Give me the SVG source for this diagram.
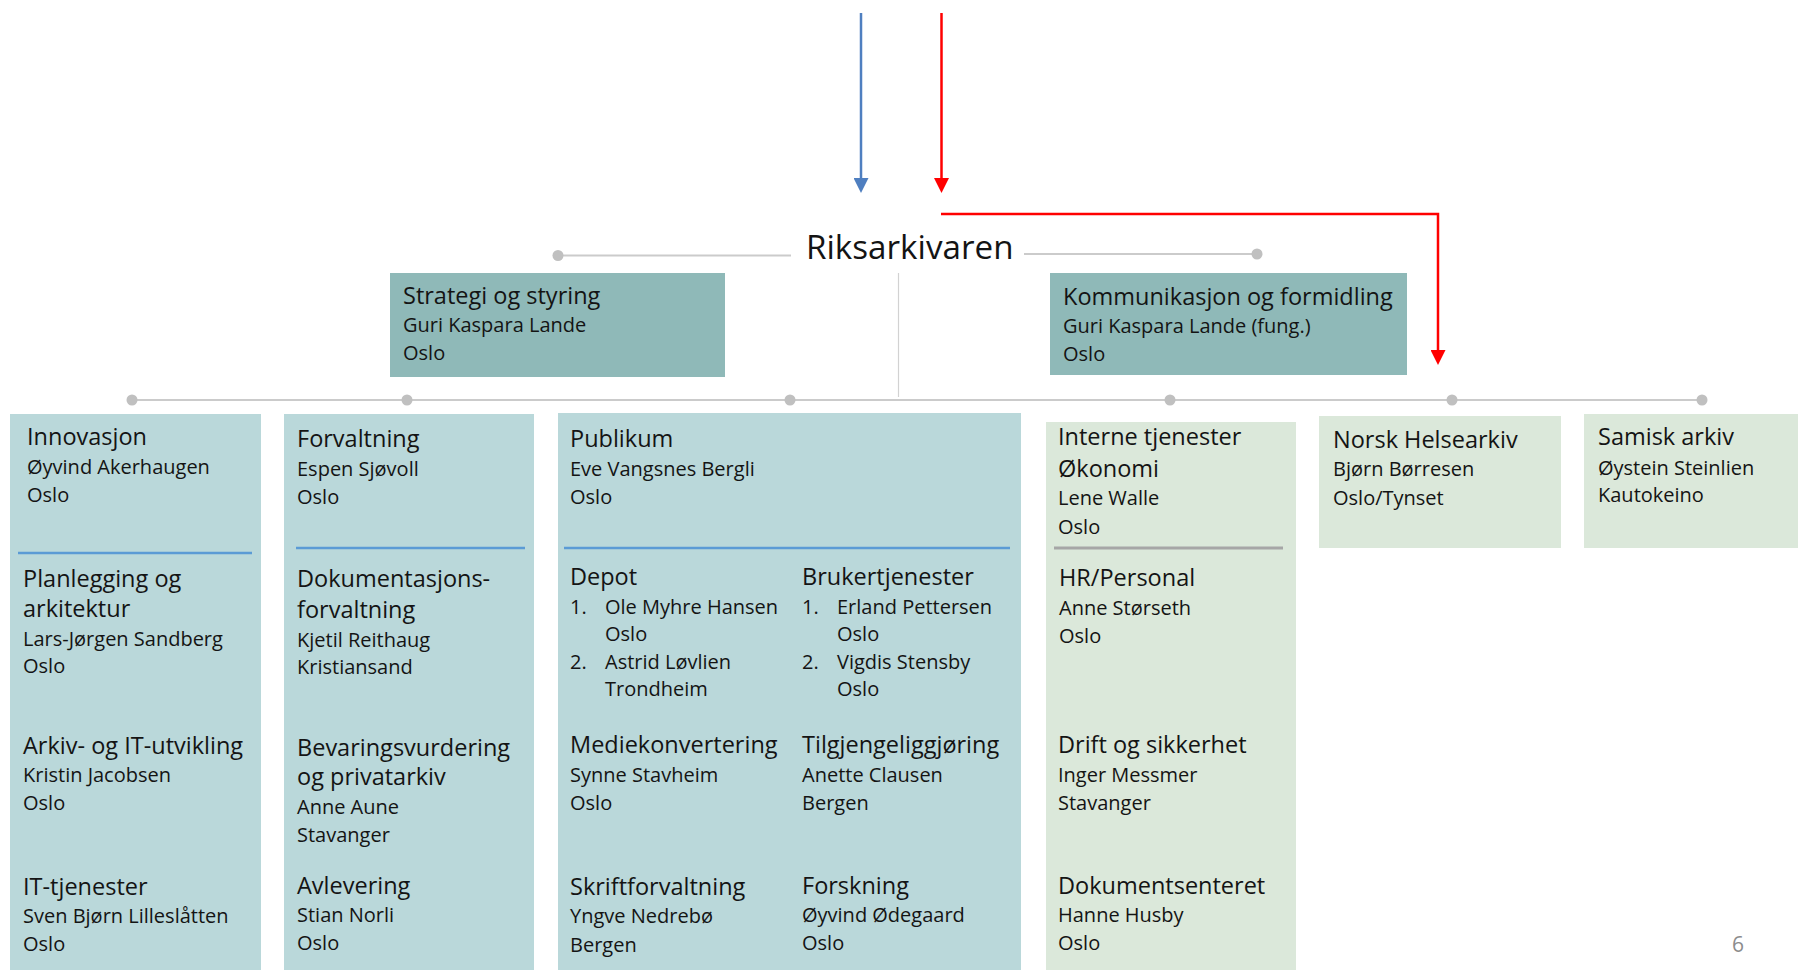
<svg xmlns="http://www.w3.org/2000/svg" width="1798" height="970" viewBox="0 0 1798 970">
<defs>
<style>
text{font-family:"Open Sans","Liberation Sans",sans-serif;fill:#141414}
.t{font-size:33.2px}
.h{font-size:23.5px}
.b{font-size:20px}
.pg{font-size:21px;fill:#8c8c8c}
.dark{fill:#8fb9b8}
.blue{fill:#bad8da}
.green{fill:#dbe8da}
.gl{stroke:#cbcbcb;stroke-width:2;fill:none}
.dot{fill:#c0c0c0}
</style>
<marker id="ab" viewBox="0 0 15 15" refX="7" refY="7.5" markerWidth="15" markerHeight="15" markerUnits="userSpaceOnUse" orient="auto"><path d="M0,0 L15,7.5 L0,15 z" fill="#4f7fc0"/></marker>
<marker id="ar" viewBox="0 0 15 15" refX="7" refY="7.5" markerWidth="15" markerHeight="15" markerUnits="userSpaceOnUse" orient="auto"><path d="M0,0 L15,7.5 L0,15 z" fill="#ff0000"/></marker>
</defs>
<rect width="1798" height="970" fill="#ffffff"/>

<g id="connectors">
<line x1="861" y1="13" x2="861" y2="185" stroke="#4f7fc0" stroke-width="2.5" marker-end="url(#ab)"/>
<line x1="941.5" y1="13" x2="941.5" y2="185" stroke="#ff0000" stroke-width="2.5" marker-end="url(#ar)"/>
<polyline points="941,214 1438,214 1438,357" fill="none" stroke="#ff0000" stroke-width="2.5" marker-end="url(#ar)"/>
<line class="gl" x1="557" y1="255.5" x2="791" y2="255.5"/>
<line class="gl" x1="1024" y1="254" x2="1257" y2="254"/>
<line x1="898.5" y1="273" x2="898.5" y2="397" stroke="#d2d2d2" stroke-width="1.2"/>
<line class="gl" x1="132" y1="400" x2="1703" y2="400"/>
<circle class="dot" cx="558" cy="255.5" r="5.5"/>
<circle class="dot" cx="1257" cy="254" r="5.5"/>
<circle class="dot" cx="132" cy="400" r="5.5"/>
<circle class="dot" cx="407" cy="400" r="5.5"/>
<circle class="dot" cx="790" cy="400" r="5.5"/>
<circle class="dot" cx="1170" cy="400" r="5.5"/>
<circle class="dot" cx="1452" cy="400" r="5.5"/>
<circle class="dot" cx="1702" cy="400" r="5.5"/>
</g>

<g id="riksarkivaren">
<text class="t" x="806" y="258.5">Riksarkivaren</text>
</g>

<g id="strategi">
<rect class="dark" x="390" y="273" width="335" height="104"/>
<text class="h" x="403" y="304">Strategi og styring</text>
<text class="b" x="403" y="332">Guri Kaspara Lande</text>
<text class="b" x="403" y="360">Oslo</text>
</g>

<g id="kommunikasjon">
<rect class="dark" x="1050" y="273" width="357" height="102"/>
<text class="h" x="1063" y="305">Kommunikasjon og formidling</text>
<text class="b" x="1063" y="333">Guri Kaspara Lande (fung.)</text>
<text class="b" x="1063" y="361">Oslo</text>
</g>

<g id="innovasjon">
<rect class="blue" x="10" y="414" width="251" height="556"/>
<text class="h" x="27" y="445">Innovasjon</text>
<text class="b" x="27" y="474">Øyvind Akerhaugen</text>
<text class="b" x="27" y="502">Oslo</text>
<line x1="18" y1="553" x2="252" y2="553" stroke="#5b9bd5" stroke-width="2.5"/>
<text class="h" x="23" y="587">Planlegging og</text>
<text class="h" x="23" y="617">arkitektur</text>
<text class="b" x="23" y="646">Lars-Jørgen Sandberg</text>
<text class="b" x="23" y="673">Oslo</text>
<text class="h" x="23" y="754">Arkiv- og IT-utvikling</text>
<text class="b" x="23" y="782">Kristin Jacobsen</text>
<text class="b" x="23" y="810">Oslo</text>
<text class="h" x="23" y="895">IT-tjenester</text>
<text class="b" x="23" y="923">Sven Bjørn Lilleslåtten</text>
<text class="b" x="23" y="951">Oslo</text>
</g>

<g id="forvaltning">
<rect class="blue" x="284" y="414" width="250" height="556"/>
<text class="h" x="297" y="447">Forvaltning</text>
<text class="b" x="297" y="476">Espen Sjøvoll</text>
<text class="b" x="297" y="504">Oslo</text>
<line x1="296" y1="548" x2="525" y2="548" stroke="#5b9bd5" stroke-width="2.5"/>
<text class="h" x="297" y="587">Dokumentasjons-</text>
<text class="h" x="297" y="618">forvaltning</text>
<text class="b" x="297" y="647">Kjetil Reithaug</text>
<text class="b" x="297" y="674">Kristiansand</text>
<text class="h" x="297" y="756">Bevaringsvurdering</text>
<text class="h" x="297" y="785">og privatarkiv</text>
<text class="b" x="297" y="814">Anne Aune</text>
<text class="b" x="297" y="842">Stavanger</text>
<text class="h" x="297" y="894">Avlevering</text>
<text class="b" x="297" y="922">Stian Norli</text>
<text class="b" x="297" y="950">Oslo</text>
</g>

<g id="publikum">
<rect class="blue" x="558" y="413" width="463" height="557"/>
<text class="h" x="570" y="446.5">Publikum</text>
<text class="b" x="570" y="475.5">Eve Vangsnes Bergli</text>
<text class="b" x="570" y="503.5">Oslo</text>
<line x1="564" y1="548" x2="1010" y2="548" stroke="#5b9bd5" stroke-width="2.5"/>
<text class="h" x="570" y="585">Depot</text>
<text class="b" x="570" y="614">1.</text><text class="b" x="605" y="614">Ole Myhre Hansen</text>
<text class="b" x="605" y="641">Oslo</text>
<text class="b" x="570" y="669">2.</text><text class="b" x="605" y="669">Astrid Løvlien</text>
<text class="b" x="605" y="696">Trondheim</text>
<text class="h" x="570" y="753">Mediekonvertering</text>
<text class="b" x="570" y="782">Synne Stavheim</text>
<text class="b" x="570" y="810">Oslo</text>
<text class="h" x="570" y="895">Skriftforvaltning</text>
<text class="b" x="570" y="923">Yngve Nedrebø</text>
<text class="b" x="570" y="952">Bergen</text>
<text class="h" x="802" y="585">Brukertjenester</text>
<text class="b" x="802" y="614">1.</text><text class="b" x="837" y="614">Erland Pettersen</text>
<text class="b" x="837" y="641">Oslo</text>
<text class="b" x="802" y="669">2.</text><text class="b" x="837" y="669">Vigdis Stensby</text>
<text class="b" x="837" y="696">Oslo</text>
<text class="h" x="802" y="753">Tilgjengeliggjøring</text>
<text class="b" x="802" y="782">Anette Clausen</text>
<text class="b" x="802" y="810">Bergen</text>
<text class="h" x="802" y="894">Forskning</text>
<text class="b" x="802" y="922">Øyvind Ødegaard</text>
<text class="b" x="802" y="950">Oslo</text>
</g>

<g id="interne">
<rect class="green" x="1046" y="422" width="250" height="548"/>
<text class="h" x="1058" y="445">Interne tjenester</text>
<text class="h" x="1058" y="477">Økonomi</text>
<text class="b" x="1058" y="505">Lene Walle</text>
<text class="b" x="1058" y="534">Oslo</text>
<line x1="1054" y1="548" x2="1283" y2="548" stroke="#a6a6a6" stroke-width="3"/>
<text class="h" x="1059" y="586">HR/Personal</text>
<text class="b" x="1059" y="614.5">Anne Størseth</text>
<text class="b" x="1059" y="643">Oslo</text>
<text class="h" x="1058" y="753">Drift og sikkerhet</text>
<text class="b" x="1058" y="782">Inger Messmer</text>
<text class="b" x="1058" y="810">Stavanger</text>
<text class="h" x="1058" y="894">Dokumentsenteret</text>
<text class="b" x="1058" y="922">Hanne Husby</text>
<text class="b" x="1058" y="950">Oslo</text>
</g>

<g id="helsearkiv">
<rect class="green" x="1319" y="416" width="242" height="132"/>
<text class="h" x="1333" y="448">Norsk Helsearkiv</text>
<text class="b" x="1333" y="476">Bjørn Børresen</text>
<text class="b" x="1333" y="505">Oslo/Tynset</text>
</g>

<g id="samisk">
<rect class="green" x="1584" y="414" width="214" height="134"/>
<text class="h" x="1598" y="445">Samisk arkiv</text>
<text class="b" x="1598" y="474.5">Øystein Steinlien</text>
<text class="b" x="1598" y="502">Kautokeino</text>
</g>

<g id="pagenum">
<text class="pg" x="1732" y="952">6</text>
</g>
</svg>
